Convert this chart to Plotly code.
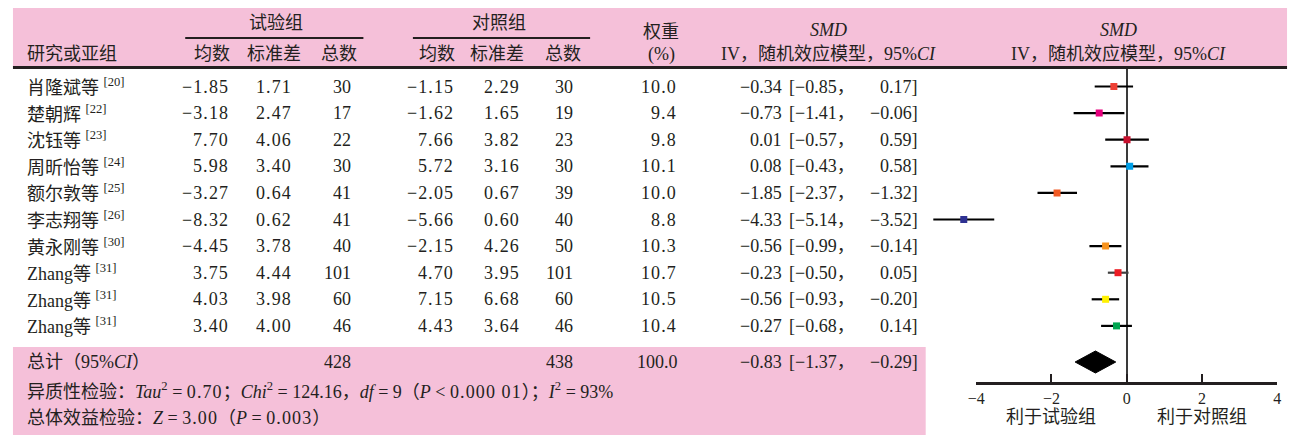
import plotly.graph_objects as go

# ---- data ---------------------------------------------------------------
studies = ["肖隆斌等", "楚朝辉", "沈钰等", "周昕怡等", "额尔敦等",
           "李志翔等", "黄永刚等", "Zhang等", "Zhang等", "Zhang等"]
refs = ["[20]", "[22]", "[23]", "[24]", "[25]", "[26]", "[30]", "[31]", "[31]", "[31]"]

trial_mean = [-1.85, -3.18, 7.70, 5.98, -3.27, -8.32, -4.45, 3.75, 4.03, 3.40]
trial_sd = [1.71, 2.47, 4.06, 3.40, 0.64, 0.62, 3.78, 4.44, 3.98, 4.00]
trial_n = [30, 17, 22, 30, 41, 41, 40, 101, 60, 46]

ctrl_mean = [-1.15, -1.62, 7.66, 5.72, -2.05, -5.66, -2.15, 4.70, 7.15, 4.43]
ctrl_sd = [2.29, 1.65, 3.82, 3.16, 0.67, 0.60, 4.26, 3.95, 6.68, 3.64]
ctrl_n = [30, 19, 23, 30, 39, 40, 50, 101, 60, 46]

weight = [10.0, 9.4, 9.8, 10.1, 10.0, 8.8, 10.3, 10.7, 10.5, 10.4]
smd = [-0.34, -0.73, 0.01, 0.08, -1.85, -4.33, -0.56, -0.23, -0.56, -0.27]
ci_low = [-0.85, -1.41, -0.57, -0.43, -2.37, -5.14, -0.99, -0.50, -0.93, -0.68]
ci_high = [0.17, -0.06, 0.59, 0.58, -1.32, -3.52, -0.14, 0.05, -0.20, 0.14]

total_trial_n = 428
total_ctrl_n = 438
total_weight = 100.0
pooled_smd = -0.83
pooled_low = -1.37
pooled_high = -0.29

x_ticks = [-4, -2, 0, 2, 4]

# ---- styling ------------------------------------------------------------
W, H = 1295, 435
PINK = "#F5C0D9"
INK = "#231F20"
FONT = "Liberation Serif, Noto Sans CJK SC, serif"
FS = 18
marker_colors = ["#EE4035", "#E6007E", "#C8102E", "#00A0E9", "#F15A24",
                 "#2E3192", "#F7931E", "#ED1C24", "#FFF100", "#00A651"]
bar_colors = ["#000000"] * 7 + ["#404040"] + ["#000000"] * 2

ROW0, ROW_STEP = 86.5, 26.6          # pixel centre of first row, row pitch
PLOT_TOP, AXIS_Y = 67, 382           # forest panel top and axis baseline (px)
AX_L, AX_R = 977, 1281               # pixel extent of the -4..4 axis
DATA_L, DATA_R = 918, 1292           # wider pixel extent used for the CI marks


def row_at(py_):
    return (py_ - ROW0) / ROW_STEP


def px(x):
    return x / W


def py(y):
    return 1 - y / H


def fmt(v, nd=2):
    return f"{v:.{nd}f}".replace("-", "−")


LS = 1.1


def spaced(s):
    return f'<span style="letter-spacing:{LS}px">{s}</span>'


TOTAL_ROW = row_at(362)
DIAMOND_H = 11 / ROW_STEP

# the data axis shares the visible axis' scale but reaches further left
ppu = (AX_R - AX_L) / (x_ticks[-1] - x_ticks[0])
zero_px = AX_L - x_ticks[0] * ppu
data_range = [(DATA_L - zero_px) / ppu, (DATA_R - zero_px) / ppu]

fig = go.Figure()

# pooled estimate diamond (on the visible axis)
fig.add_trace(go.Scatter(
    x=[pooled_low, pooled_smd, pooled_high, pooled_smd, pooled_low],
    y=[TOTAL_ROW, TOTAL_ROW - DIAMOND_H, TOTAL_ROW, TOTAL_ROW + DIAMOND_H, TOTAL_ROW],
    mode="lines", fill="toself", fillcolor="black", line=dict(color="black", width=1),
    showlegend=False, hoverinfo="skip", cliponaxis=False, xaxis="x", yaxis="y"))

# study estimates with confidence intervals
for i in range(len(studies)):
    fig.add_trace(go.Scatter(
        x=[smd[i]], y=[i], mode="markers", xaxis="x2", yaxis="y",
        marker=dict(symbol="square", size=7, color=marker_colors[i], line=dict(width=0)),
        error_x=dict(type="data", symmetric=False,
                     array=[ci_high[i] - smd[i]], arrayminus=[smd[i] - ci_low[i]],
                     color=bar_colors[i], thickness=2.2, width=0),
        showlegend=False, hoverinfo="skip"))

ann = []


def text(x, y, s, anchor="left", yref="paper", size=FS):
    ann.append(dict(x=x, y=y, xref="paper", yref=yref, text=s, showarrow=False,
                    xanchor=anchor, yanchor="middle", align=anchor,
                    font=dict(family=FONT, size=size, color=INK)))


# header
text(px(270), py(23), "试验组", "center")
text(px(495), py(23), "对照组", "center")
text(px(16), py(54), "研究或亚组")
for cx, lab in [(205, "均数"), (268, "标准差"), (333, "总数"),
                (432, "均数"), (493, "标准差"), (560, "总数")]:
    text(px(cx), py(54), lab, "center")
text(px(659), py(32), "权重", "center")
text(px(659), py(54), "(%)", "center")
for cx in (828, 1121):
    text(px(cx), py(30), "<i>SMD</i>", "center")
    text(px(cx), py(54), "IV，随机效应模型，95%<i>CI</i>", "center")

# study rows
for i in range(len(studies)):
    text(px(16), i, f"{studies[i]} <sup>{refs[i]}</sup>", yref="y")
    text(px(223 + LS), i, spaced(fmt(trial_mean[i])), "right", "y")
    text(px(287 + LS), i, spaced(fmt(trial_sd[i])), "right", "y")
    text(px(347), i, str(trial_n[i]), "right", "y")
    text(px(450 + LS), i, spaced(fmt(ctrl_mean[i])), "right", "y")
    text(px(517 + LS), i, spaced(fmt(ctrl_sd[i])), "right", "y")
    text(px(572), i, str(ctrl_n[i]), "right", "y")
    text(px(676 + LS), i, spaced(fmt(weight[i], 1)), "right", "y")
    text(px(783), i, fmt(smd[i]), "right", "y")
    text(px(786), i, f"[{fmt(ci_low[i])}，", "left", "y")
    text(px(920), i, f"{fmt(ci_high[i])}]", "right", "y")

# totals and tests
text(px(16), TOTAL_ROW, "总计（95%<i>CI</i>）", yref="y")
text(px(347), TOTAL_ROW, str(total_trial_n), "right", "y")
text(px(572), TOTAL_ROW, str(total_ctrl_n), "right", "y")
text(px(678), TOTAL_ROW, fmt(total_weight, 1), "right", "y")
text(px(783), TOTAL_ROW, fmt(pooled_smd), "right", "y")
text(px(786), TOTAL_ROW, f"[{fmt(pooled_low)}，", "left", "y")
text(px(920), TOTAL_ROW, f"{fmt(pooled_high)}]", "right", "y")
text(px(16), py(390),
     "异质性检验：<i>Tau</i><sup>2</sup> = " + spaced("0.70") + "；<i>Chi</i><sup>2</sup> = 124.16，"
     "<i>df</i> = 9（<i>P</i> &lt; " + spaced("0.000 01") + "）；<i>I</i><sup>2</sup> = 93%")
text(px(16), py(418), "总体效益检验：<i>Z</i> = " + spaced("3.00") + "（<i>P</i> = " + spaced("0.003") + "）")

# axis captions
for xv, lab in [(-2, "利于试验组"), (2, "利于对照组")]:
    ann.append(dict(x=xv, y=py(417), xref="x", yref="paper", text=lab, showarrow=False,
                    xanchor="center", yanchor="middle",
                    font=dict(family=FONT, size=FS, color=INK)))

shapes = [
    dict(type="rect", xref="paper", yref="paper", x0=px(4), x1=px(1291), y0=py(8), y1=py(67),
         fillcolor=PINK, line=dict(width=0), layer="below"),
    dict(type="rect", xref="paper", yref="paper", x0=px(4), x1=px(926), y0=py(347), y1=py(435),
         fillcolor=PINK, line=dict(width=0), layer="below"),
    dict(type="line", xref="paper", yref="paper", x0=px(4), x1=px(1291), y0=py(67.5), y1=py(67.5),
         line=dict(color=INK, width=3)),
    dict(type="line", xref="paper", yref="paper", x0=px(178), x1=px(358), y0=py(38), y1=py(38),
         line=dict(color=INK, width=2)),
    dict(type="line", xref="paper", yref="paper", x0=px(408), x1=px(587), y0=py(38), y1=py(38),
         line=dict(color=INK, width=2)),
]

fig.update_layout(
    width=W, height=H, margin=dict(l=0, r=0, t=0, b=0),
    paper_bgcolor="white", plot_bgcolor="rgba(0,0,0,0)",
    showlegend=False, annotations=ann, shapes=shapes,
    xaxis=dict(domain=[px(AX_L), px(AX_R)], range=[x_ticks[0], x_ticks[-1]], tickvals=x_ticks,
               ticktext=[fmt(v, 0) for v in x_ticks], anchor="y",
               ticks="inside", ticklen=8, tickwidth=2, tickcolor=INK,
               showline=True, linewidth=2.5, linecolor=INK, mirror=False,
               showgrid=False, zeroline=True, zerolinecolor="#3a3a3a", zerolinewidth=2,
               tickfont=dict(family=FONT, size=16, color=INK), fixedrange=True),
    xaxis2=dict(domain=[px(DATA_L), px(DATA_R)], range=data_range, anchor="y",
                visible=False, showgrid=False, zeroline=False, fixedrange=True),
    yaxis=dict(domain=[py(AXIS_Y), py(PLOT_TOP)],
               range=[row_at(AXIS_Y), row_at(PLOT_TOP)],
               visible=False, showgrid=False, zeroline=False, fixedrange=True),
)

fig.write_html("out.html")
